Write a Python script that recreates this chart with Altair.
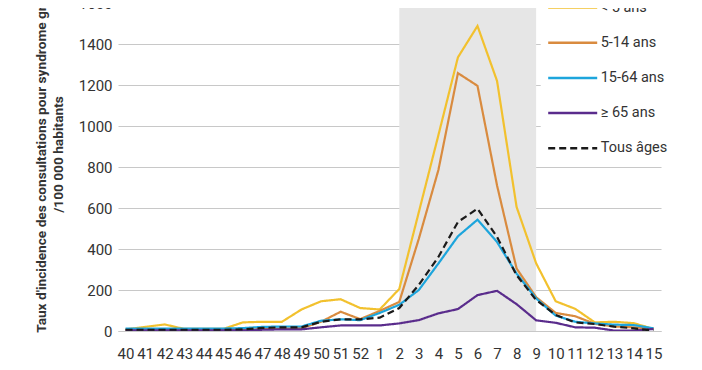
import altair as alt
import pandas as pd

weeks = ["40", "41", "42", "43", "44", "45", "46", "47", "48", "49", "50", "51", "52",
         "1", "2", "3", "4", "5", "6", "7", "8", "9", "10", "11", "12", "13", "14", "15"]
series_names = ["< 5 ans", "5-14 ans", "15-64 ans", "≥ 65 ans", "Tous âges"]

lt5 = [8, 20, 32, 10, 10, 10, 42, 45, 45, 105, 145, 155, 112, 105, 205, 580, 955, 1335,
       1488, 1220, 605, 330, 145, 108, 42, 45, 38, 10]
age5_14 = [3, 3, 3, 3, 3, 3, 6, 10, 12, 14, 45, 94, 58, 98, 142, 450, 785, 1258,
           1196, 710, 305, 165, 88, 72, 35, 22, 18, 10]
age15_64 = [12, 12, 12, 12, 12, 12, 14, 20, 22, 22, 50, 57, 53, 88, 128, 200, 329, 462,
            543, 434, 280, 159, 75, 45, 37, 31, 29, 13]
age65 = [3, 3, 3, 3, 3, 3, 3, 6, 8, 8, 18, 27, 27, 27, 37, 53, 86, 107,
         175, 196, 131, 52, 40, 18, 16, 2, 2, 10]
all_ages = [6, 6, 6, 6, 6, 6, 8, 15, 18, 18, 45, 57, 57, 65, 112, 225, 361, 532,
            597, 459, 272, 151, 78, 42, 34, 21, 13, 2]

colors = ["#F2C12E", "#D98B3F", "#1DA5DC", "#5A2C8C", "#1A1A1A"]
dashes = [[1, 0], [1, 0], [1, 0], [1, 0], [7, 4]]
epidemic_start = "2"
epidemic_end = "9"
y_ticks = [0, 200, 400, 600, 800, 1000, 1200, 1400, 1600]
y_title = ["Taux d'incidence des consultations pour syndrome grippal", "/100 000 habitants"]

rows = []
for name, vals in zip(series_names, [lt5, age5_14, age15_64, age65, all_ages]):
    for w, v in zip(weeks, vals):
        rows.append({"week": w, "value": v, "series": name})
df = pd.DataFrame(rows)

band_df = pd.DataFrame({"week": [epidemic_start], "week_end": [epidemic_end],
                        "value": [y_ticks[0]], "value_end": [y_ticks[-1]]})

x_scale = alt.Scale(type="point", padding=0.385, domain=weeks)
y_scale = alt.Scale(domain=[0, 1600], nice=False)

x_axis = alt.Axis(title=None, labelAngle=0, labelFontSize=15, labelColor="#333333",
                  labelPadding=15, ticks=False, domain=True, domainColor="#c8c8c8",
                  domainWidth=1.2, grid=False, zindex=1)
y_axis = alt.Axis(values=y_ticks, format="d", title=y_title, titleFontSize=13.7,
                  titleFontWeight="bold", titleColor="#333333", titleAngle=270,
                  titleX=-70, titleY=151, titleAlign="center", titleBaseline="bottom",
                  titleLineHeight=17, labelFontSize=15, labelColor="#333333",
                  labelPadding=6, ticks=False, domain=False, gridColor="#c8c8c8",
                  gridWidth=1.2)

legend = alt.Legend(title=None, orient="none", legendX=422.7, legendY=-13,
                    symbolType="M-1,0H3.9", symbolSize=400, symbolStrokeWidth=2.5,
                    labelFontSize=14.5, labelColor="#333333", labelOffset=31,
                    rowPadding=17.2, padding=6, fillColor="white")

band = alt.Chart(band_df).mark_rect(color="#e6e6e6").encode(
    x=alt.X("week:O", scale=x_scale, axis=x_axis, sort=weeks),
    x2="week_end",
    y=alt.Y("value:Q", scale=y_scale, axis=y_axis),
    y2="value_end",
)

lines = alt.Chart(df).mark_line(strokeWidth=2.2).encode(
    x=alt.X("week:O", scale=x_scale, axis=x_axis, sort=weeks),
    y=alt.Y("value:Q", scale=y_scale, axis=y_axis),
    color=alt.Color("series:N", scale=alt.Scale(domain=series_names, range=colors), legend=legend),
    strokeDash=alt.StrokeDash("series:N", scale=alt.Scale(domain=series_names, range=dashes), legend=legend),
)

chart = alt.layer(band, lines).properties(
    width=543, height=328,
    autosize=alt.AutoSizeParams(type="none"),
    padding={"left": 110, "top": -5, "right": 33, "bottom": 30},
).configure(font="Roboto").configure_view(stroke=None)

chart.save("out.html", embed_options={"renderer": "svg", "actions": False})
